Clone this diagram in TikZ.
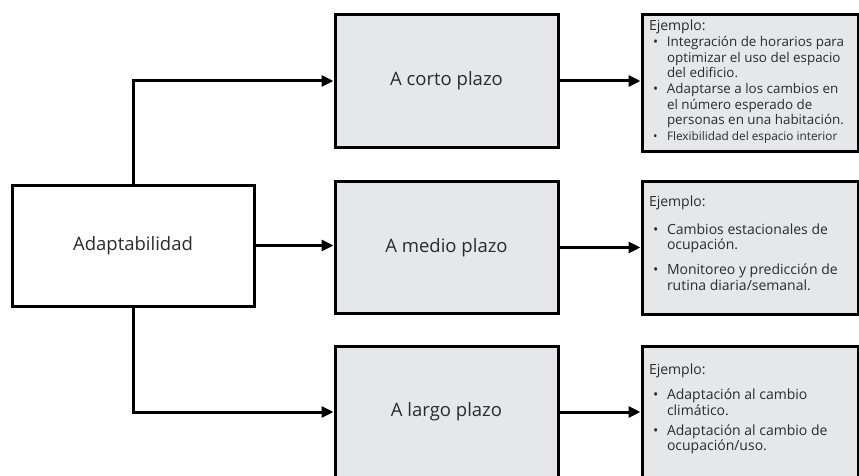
\documentclass[tikz,border=0pt]{standalone}
\usepackage{fontspec}
\setmainfont{Open Sans}
\usetikzlibrary{arrows.meta}

\definecolor{cajagris}{HTML}{E6E7E8}
\definecolor{texto}{HTML}{2B2B2B}
\newcommand{\bul}{\hspace*{4pt}\makebox[14pt][l]{\textbullet}}
\newcommand{\sig}{\hspace*{18pt}}

\begin{document}
\begin{tikzpicture}[x=1pt,y=-1pt,
			every node/.style={
					draw,
					line width=3pt,
					text=texto,
					inner sep=0pt
				},
			raiz/.style={fill=white, minimum width=242pt, minimum height=121pt,
					font=\fontsize{18.5}{22}\selectfont},
			plazo/.style={fill=cajagris, minimum width=223pt, minimum height=132pt,
					font=\fontsize{18.5}{22}\selectfont},
			ejemplo/.style={fill=cajagris, minimum width=216pt},
			ejtexto/.style={draw=none, anchor=north west, align=left,
					font=\fontsize{14}{15.5}\selectfont},
			flecha/.style={line width=3pt, -{Triangle[length=12pt,width=11pt]}}
		]
		\path[use as bounding box, clip] (0,0) rectangle (859,476);

		\node[raiz] (adapt) at (133,245.5) {Adaptabilidad};

		\node[plazo] (corto) at (446.5,81) {A corto plazo};
		\node[plazo] (medio) at (446.5,247.5) {A medio plazo};
		\node[plazo] (largo) at (446.5,412) {A largo plazo};

		\node[ejemplo, minimum height=136pt] (ej corto) at (750,83) {};
		\node[ejemplo, minimum height=133pt] (ej medio) at (750,247.5) {};
		\node[ejemplo, minimum height=132pt] (ej largo) at (750,412) {};

		% textos de los ejemplos
		\node[ejtexto, font=\fontsize{13.4}{15.6}\selectfont] (tx corto)
			at ([shift={(7pt,-5pt)}]ej corto.north west) {{\fontsize{14}{15.6}\selectfont Ejemplo:}\\[0.5pt]
				\bul Integración de horarios para\\
				\sig optimizar el uso del espacio\\
				\sig del edificio.\\
				\bul Adaptarse a los cambios en\\
				\sig el número esperado de\\
				\sig personas en una habitación.\\
				{\fontsize{11.8}{15.6}\selectfont\bul Flexibilidad del espacio interior}};
		\node[ejtexto] (tx medio)
			at ([shift={(7pt,-15pt)}]ej medio.north west) {Ejemplo:\\[12pt]
				\bul Cambios estacionales de\\
				\sig ocupación.\\[9.5pt]
				\bul Monitoreo y predicción de\\
				\sig rutina diaria/semanal.};
		\node[ejtexto] (tx largo)
			at ([shift={(7pt,-18pt)}]ej largo.north west) {Ejemplo:\\[9.5pt]
				\bul Adaptación al cambio\\
				\sig climático.\\[4.5pt]
				\bul Adaptación al cambio de\\
				\sig ocupación/uso.};

		\draw[flecha] (adapt.north) |- (corto.west);
		\draw[flecha] (adapt.east) -- (adapt.east -| medio.west);
		\draw[flecha] (adapt.south) |- (largo.west);

		\draw[flecha] (corto.east) -- (corto.east -| ej corto.west);
		\draw[flecha] (medio.east) -- (ej medio.west);
		\draw[flecha] (largo.east) -- (ej largo.west);
	\end{tikzpicture}
\end{document}
